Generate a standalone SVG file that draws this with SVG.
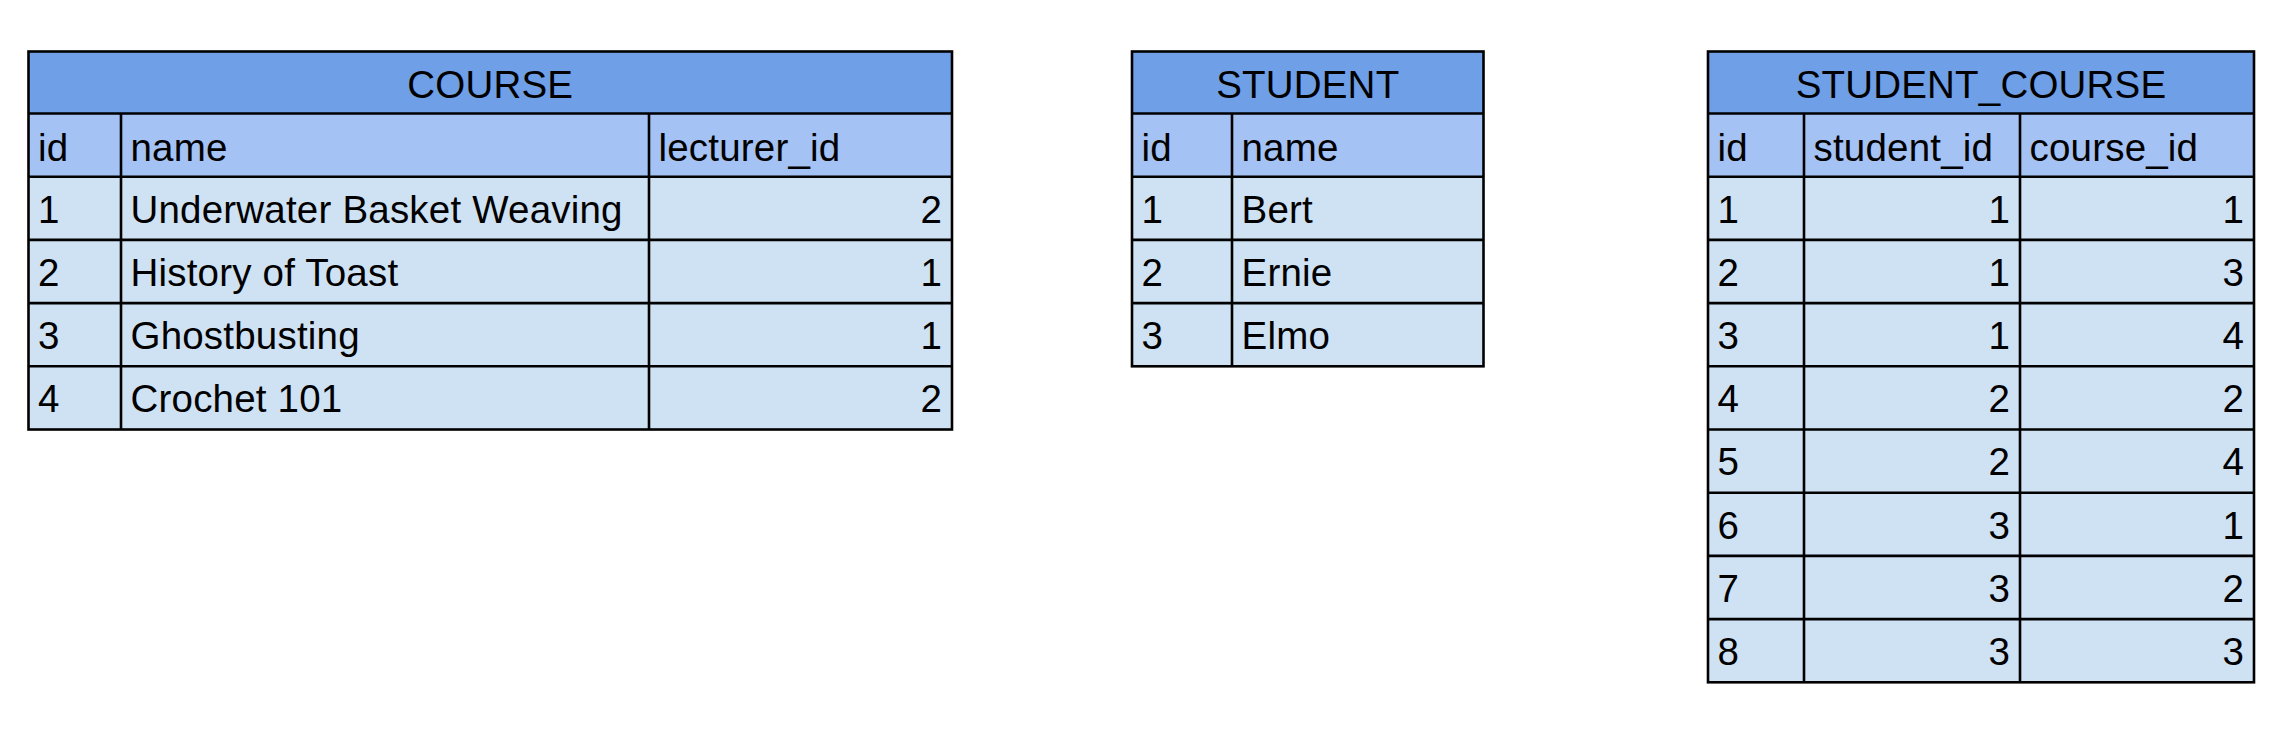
<svg xmlns="http://www.w3.org/2000/svg" width="2294" height="736" viewBox="0 0 2294 736">
  <style>
    text { font-family: "Liberation Sans", Arial, sans-serif; font-size: 38.5px; letter-spacing: 0.2px; fill: #000; }
    .c { text-anchor: middle; }
    .r { text-anchor: end; }
    .title { fill: #6f9fe6; }
    .colhdr { fill: #a4c2f4; }
    .data { fill: #cfe2f3; }
    .grid { stroke: #000; stroke-width: 2.6; fill: none; }
  </style>
  <rect x="0" y="0" width="2294" height="736" fill="#fff"/>

  <g id="course">
    <rect class="data" x="28.5" y="176.7" width="923.5" height="252.8"/>
    <rect class="colhdr" x="28.5" y="113.5" width="923.5" height="63.2"/>
    <rect class="title" x="28.5" y="51.5" width="923.5" height="62"/>
    <g class="grid">
      <rect x="28.5" y="51.5" width="923.5" height="378"/>
      <path d="M28.5 113.5H952M28.5 176.7H952M28.5 239.9H952M28.5 303.1H952M28.5 366.3H952M121 113.5V429.5M649 113.5V429.5"/>
    </g>
    <text class="c" x="490.25" y="97.5">COURSE</text>
    <text x="38" y="160.5">id</text>
    <text x="130.5" y="160.5">name</text>
    <text x="658.5" y="160.5">lecturer_id</text>
    <text x="38" y="222.5">1</text>
    <text x="130.5" y="222.5">Underwater Basket Weaving</text>
    <text class="r" x="942" y="222.5">2</text>
    <text x="38" y="285.7">2</text>
    <text x="130.5" y="285.7">History of Toast</text>
    <text class="r" x="942" y="285.7">1</text>
    <text x="38" y="348.9">3</text>
    <text x="130.5" y="348.9">Ghostbusting</text>
    <text class="r" x="942" y="348.9">1</text>
    <text x="38" y="412.1">4</text>
    <text x="130.5" y="412.1">Crochet 101</text>
    <text class="r" x="942" y="412.1">2</text>
  </g>

  <g id="student">
    <rect class="data" x="1132" y="176.7" width="351.5" height="189.6"/>
    <rect class="colhdr" x="1132" y="113.5" width="351.5" height="63.2"/>
    <rect class="title" x="1132" y="51.5" width="351.5" height="62"/>
    <g class="grid">
      <rect x="1132" y="51.5" width="351.5" height="314.8"/>
      <path d="M1132 113.5H1483.5M1132 176.7H1483.5M1132 239.9H1483.5M1132 303.1H1483.5M1232 113.5V366.3"/>
    </g>
    <text class="c" x="1307.75" y="97.5">STUDENT</text>
    <text x="1141.5" y="160.5">id</text>
    <text x="1241.5" y="160.5">name</text>
    <text x="1141.5" y="222.5">1</text>
    <text x="1241.5" y="222.5">Bert</text>
    <text x="1141.5" y="285.7">2</text>
    <text x="1241.5" y="285.7">Ernie</text>
    <text x="1141.5" y="348.9">3</text>
    <text x="1241.5" y="348.9">Elmo</text>
  </g>

  <g id="student_course">
    <rect class="data" x="1708" y="176.7" width="546" height="505.6"/>
    <rect class="colhdr" x="1708" y="113.5" width="546" height="63.2"/>
    <rect class="title" x="1708" y="51.5" width="546" height="62"/>
    <g class="grid">
      <rect x="1708" y="51.5" width="546" height="630.8"/>
      <path d="M1708 113.5H2254M1708 176.7H2254M1708 239.9H2254M1708 303.1H2254M1708 366.3H2254M1708 429.5H2254M1708 492.7H2254M1708 555.9H2254M1708 619.1H2254M1804 113.5V682.3M2020 113.5V682.3"/>
    </g>
    <text class="c" x="1981" y="97.5">STUDENT_COURSE</text>
    <text x="1717.5" y="160.5">id</text>
    <text x="1813.5" y="160.5">student_id</text>
    <text x="2029.5" y="160.5">course_id</text>
    <text x="1717.5" y="222.5">1</text><text class="r" x="2010" y="222.5">1</text><text class="r" x="2244" y="222.5">1</text>
    <text x="1717.5" y="285.7">2</text><text class="r" x="2010" y="285.7">1</text><text class="r" x="2244" y="285.7">3</text>
    <text x="1717.5" y="348.9">3</text><text class="r" x="2010" y="348.9">1</text><text class="r" x="2244" y="348.9">4</text>
    <text x="1717.5" y="412.1">4</text><text class="r" x="2010" y="412.1">2</text><text class="r" x="2244" y="412.1">2</text>
    <text x="1717.5" y="475.3">5</text><text class="r" x="2010" y="475.3">2</text><text class="r" x="2244" y="475.3">4</text>
    <text x="1717.5" y="538.5">6</text><text class="r" x="2010" y="538.5">3</text><text class="r" x="2244" y="538.5">1</text>
    <text x="1717.5" y="601.7">7</text><text class="r" x="2010" y="601.7">3</text><text class="r" x="2244" y="601.7">2</text>
    <text x="1717.5" y="664.9">8</text><text class="r" x="2010" y="664.9">3</text><text class="r" x="2244" y="664.9">3</text>
  </g>

  <g id="connectors"></g>
</svg>
